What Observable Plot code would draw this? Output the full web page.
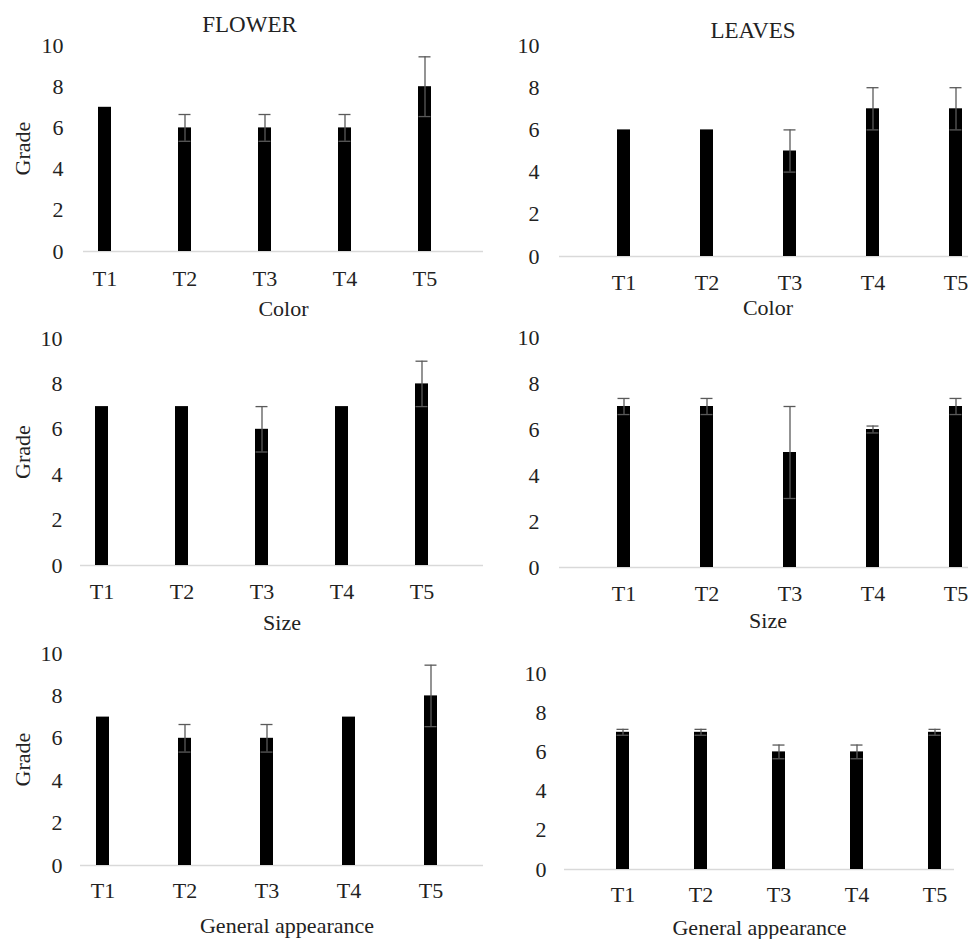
<!DOCTYPE html>
<html>
<head>
<meta charset="utf-8">
<script src="https://cdn.jsdelivr.net/npm/d3@7"></script>
<script src="https://cdn.jsdelivr.net/npm/@observablehq/plot@0.6"></script>
<style>
  html, body { margin: 0; padding: 0; background: #fff; }
  #wrap { position: relative; width: 968px; height: 939px; overflow: hidden; background: #fff; }
</style>
</head>
<body>
<div id="wrap"></div>
<script>
// ---- data ----
const treatments = ["T1", "T2", "T3", "T4", "T5"];
const yTicks = [0, 2, 4, 6, 8, 10];
const titles = ["FLOWER", "LEAVES"];
const attributes = ["Color", "Size", "General appearance"];
const yLabel = "Grade";

const flowerColor    = [7, 6, 6, 6, 8];
const flowerColorErr = [0, 0.65, 0.65, 0.65, 1.45];
const leavesColor    = [6, 6, 5, 7, 7];
const leavesColorErr = [0, 0, 1, 1, 1];
const flowerSize     = [7, 7, 6, 7, 8];
const flowerSizeErr  = [0, 0, 1, 0, 1];
const leavesSize     = [7, 7, 5, 6, 7];
const leavesSizeErr  = [0.35, 0.35, 2, 0.15, 0.35];
const flowerGA       = [7, 6, 6, 7, 8];
const flowerGAErr    = [0, 0.65, 0.65, 0, 1.45];
const leavesGA       = [7, 7, 6, 6, 7];
const leavesGAErr    = [0.15, 0.15, 0.35, 0.35, 0.15];

// ---- layout ----
const panels = [
  {v: flowerColor, e: flowerColorErr, left: 0,   top: 0,   w: 484, h: 320, mt: 45, mb: 69, ml: 83, mr: 1,  xr: [65, 465], tp: 20, xtp: 19, title: titles[0], tdx: -34, tdy: -21, xl: attributes[0], xdx: 0, xdy: 57, grade: -61},
  {v: leavesColor, e: leavesColorErr, left: 484, top: 0,   w: 484, h: 320, mt: 45, mb: 64, ml: 75, mr: 0,  xr: [96, 515], tp: 20, xtp: 18, title: titles[1], tdx: -11, tdy: -15, xl: attributes[0], xdx: 4, xdy: 51},
  {v: flowerSize,  e: flowerSizeErr,  left: 0,   top: 320, w: 484, h: 310, mt: 18, mb: 65, ml: 80, mr: 1,  xr: [62, 462], tp: 18, xtp: 18, xl: attributes[1], xdx: 0, xdy: 57, grade: -58},
  {v: leavesSize,  e: leavesSizeErr,  left: 484, top: 320, w: 484, h: 310, mt: 17, mb: 63, ml: 75, mr: 0,  xr: [96, 515], tp: 20, xtp: 18, xl: attributes[1], xdx: 4, xdy: 53},
  {v: flowerGA,    e: flowerGAErr,    left: 0,   top: 630, w: 484, h: 309, mt: 23, mb: 74, ml: 80, mr: 1,  xr: [61, 472], tp: 18, xtp: 17, xl: attributes[2], xdx: 5, xdy: 60, grade: -58},
  {v: leavesGA,    e: leavesGAErr,    left: 484, top: 630, w: 484, h: 309, mt: 43, mb: 70, ml: 80, mr: 14, xr: [99, 490], tp: 18, xtp: 17, xl: attributes[2], xdx: 0, xdy: 58}
];

const wrap = document.getElementById("wrap");
const barW = 13.5;
const errColor = "#5a5a5a";
const textColor = "#222";

for (const p of panels) {
  const rows = treatments.map((t, i) => ({t, v: p.v[i], e: p.e[i]}));
  const errRows = rows.filter(d => d.e > 0);
  const step = (p.xr[1] - p.xr[0]) / treatments.length;
  const pin = 1 - barW / step;
  const marks = [
    Plot.ruleY([0], {stroke: "#d9d9d9", strokeWidth: 1.5}),
    Plot.barY(rows, {x: "t", y: "v", fill: "black"}),
    Plot.ruleX(errRows, {x: "t", y1: d => d.v - d.e, y2: d => d.v + d.e, stroke: errColor, strokeWidth: 1.3}),
    Plot.tickY(errRows, {x: "t", y: d => d.v + d.e, stroke: errColor, strokeWidth: 1.3, insetLeft: 0.5, insetRight: 0.5}),
    Plot.tickY(errRows, {x: "t", y: d => d.v - d.e, stroke: errColor, strokeWidth: 1.3, insetLeft: 0.5, insetRight: 0.5}),
    Plot.text([p.xl], {text: d => d, frameAnchor: "bottom", lineAnchor: "middle", textAnchor: "middle", dx: p.xdx, dy: p.xdy, fontSize: 22, fill: textColor})
  ];
  if (p.title) marks.push(Plot.text([p.title], {text: d => d, frameAnchor: "top", lineAnchor: "middle", textAnchor: "middle", dx: p.tdx, dy: p.tdy, fontSize: 23, fill: textColor}));
  if (p.grade !== undefined) marks.push(Plot.text([yLabel], {text: d => d, frameAnchor: "left", lineAnchor: "middle", textAnchor: "middle", dx: p.grade, rotate: -90, fontSize: 22, fill: textColor}));

  const svg = Plot.plot({
    width: p.w,
    height: p.h,
    marginTop: p.mt,
    marginBottom: p.mb,
    marginLeft: p.ml,
    marginRight: p.mr,
    style: {fontFamily: "'Liberation Serif', 'Times New Roman', serif", fontSize: "22px", color: textColor, background: "transparent", overflow: "visible"},
    x: {domain: treatments, range: p.xr, paddingInner: pin, paddingOuter: pin / 2, tickSize: 0, tickPadding: p.xtp, label: null},
    y: {domain: [0, 10], ticks: yTicks, tickSize: 0, tickPadding: p.tp, label: null},
    marks
  });
  svg.style.position = "absolute";
  svg.style.left = p.left + "px";
  svg.style.top = p.top + "px";
  wrap.appendChild(svg);
}
</script>
</body>
</html>
